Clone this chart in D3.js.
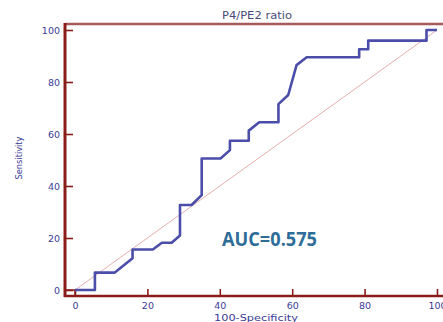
<!DOCTYPE html>
<html>
<head>
<meta charset="utf-8">
<script src="https://cdn.jsdelivr.net/npm/d3@7"></script>
<style>
  body { margin: 0; background: #fff; }
  svg { display: block; }
</style>
</head>
<body>
<div id="chart"></div>
<script>
// ROC curve points: 100-specificity vs sensitivity
const fpr = [0, 5.5, 5.5, 11, 15.9, 15.9, 21.5, 24, 26.7, 29, 29, 32.2, 35, 35, 40.2, 42.8, 42.8, 48, 48, 50.9, 56.2, 56.2, 58.9, 61.2, 64, 78.5, 78.5, 81, 81, 97.1, 97.1, 100];
const tpr = [0, 0, 6.7, 6.7, 12.2, 15.6, 15.6, 18.2, 18.2, 21, 32.7, 32.7, 36.5, 50.6, 50.6, 53.8, 57.4, 57.4, 61.3, 64.5, 64.5, 71.5, 75, 86.5, 89.5, 89.5, 92.6, 92.6, 95.9, 95.9, 100, 100];
const majorTicks = [0, 20, 40, 60, 80, 100];
const minorTicks = d3.range(0, 101, 5);
const title = 'P4/PE2 ratio';
const xLabel = '100-Specificity';
const yLabel = 'Sensitivity';
const aucText = 'AUC=0.575';

const width = 443, height = 322;
const axisRed = '#8b1c1c';
const labelBlue = '#3c3c96';

const svg = d3.select('#chart').append('svg')
  .attr('width', width)
  .attr('height', height);

const x = d3.scaleLinear().domain([0, 100]).range([75, 437]);
const y = d3.scaleLinear().domain([0, 100]).range([290, 30]);

const axisX = 65, axisY = 296, frameTop = 24;

// top border of the frame
svg.append('line')
  .attr('x1', axisX).attr('x2', width + 2)
  .attr('y1', frameTop).attr('y2', frameTop)
  .attr('stroke', '#a45a5a').attr('stroke-width', 2.5);

// diagonal reference line
svg.append('line')
  .attr('x1', x(0)).attr('y1', y(0))
  .attr('x2', x(100)).attr('y2', y(100))
  .attr('stroke', '#e6aeae').attr('stroke-width', 1);

// small box linking the offset axes at the origin
svg.append('path')
  .attr('d', `M${axisX},${y(0)}H${x(0)}V${axisY}`)
  .attr('fill', 'none').attr('stroke', axisRed).attr('stroke-width', 1.5);

// y axis: major + minor ticks pointing inside
const gy = svg.append('g').attr('transform', `translate(${axisX},0)`);
gy.call(d3.axisLeft(y).tickValues(minorTicks).tickSize(-4).tickFormat(''));
gy.call(d3.axisLeft(y).tickValues(majorTicks).tickSizeInner(-8).tickSizeOuter(0).tickPadding(5));
gy.select('.domain').remove();
gy.append('line').attr('y1', frameTop - 1).attr('y2', axisY + 1)
  .attr('stroke', axisRed).attr('stroke-width', 3);

// x axis
const gx = svg.append('g').attr('transform', `translate(0,${axisY})`);
gx.call(d3.axisBottom(x).tickValues(minorTicks).tickSize(-4).tickFormat(''));
gx.call(d3.axisBottom(x).tickValues(majorTicks).tickSizeInner(-7).tickSizeOuter(0).tickPadding(6));
gx.select('.domain').remove();
gx.append('line').attr('x1', axisX - 1).attr('x2', width + 2)
  .attr('stroke', axisRed).attr('stroke-width', 2.5);

svg.selectAll('.tick line').attr('stroke', axisRed).attr('stroke-width', 1.6);
svg.selectAll('.tick text')
  .attr('fill', labelBlue)
  .style('font-family', '"DejaVu Sans", sans-serif')
  .style('font-size', '9.5px');

// ROC curve
const pts = fpr.map((f, i) => [f, tpr[i]]);
svg.append('path')
  .datum(pts)
  .attr('d', d3.line().x(d => x(d[0])).y(d => y(d[1])))
  .attr('fill', 'none')
  .attr('stroke', '#4a4ea8')
  .attr('stroke-width', 2.6)
  .attr('stroke-linejoin', 'round');

// texts
svg.append('text')
  .attr('x', 257).attr('y', 19)
  .attr('text-anchor', 'middle')
  .attr('fill', '#4a4a78')
  .attr('textLength', 70)
  .attr('lengthAdjust', 'spacingAndGlyphs')
  .style('font-family', '"DejaVu Sans", sans-serif')
  .style('font-size', '10px')
  .text(title);

svg.append('text')
  .attr('x', 256).attr('y', 321)
  .attr('text-anchor', 'middle')
  .attr('fill', labelBlue)
  .attr('textLength', 84)
  .attr('lengthAdjust', 'spacingAndGlyphs')
  .style('font-family', '"DejaVu Sans", sans-serif')
  .style('font-size', '9.5px')
  .text(xLabel);

svg.append('text')
  .attr('transform', 'translate(22,158) rotate(-90)')
  .attr('text-anchor', 'middle')
  .attr('fill', labelBlue)
  .attr('textLength', 43)
  .attr('lengthAdjust', 'spacingAndGlyphs')
  .style('font-family', '"DejaVu Sans", sans-serif')
  .style('font-size', '8px')
  .text(yLabel);

svg.append('text')
  .attr('x', 222).attr('y', 246)
  .attr('fill', '#2f6d99')
  .attr('textLength', 95)
  .attr('lengthAdjust', 'spacingAndGlyphs')
  .style('font-family', '"Open Sans", sans-serif')
  .style('font-weight', 'bold')
  .style('font-size', '19px')
  .text(aucText);
</script>
</body>
</html>
